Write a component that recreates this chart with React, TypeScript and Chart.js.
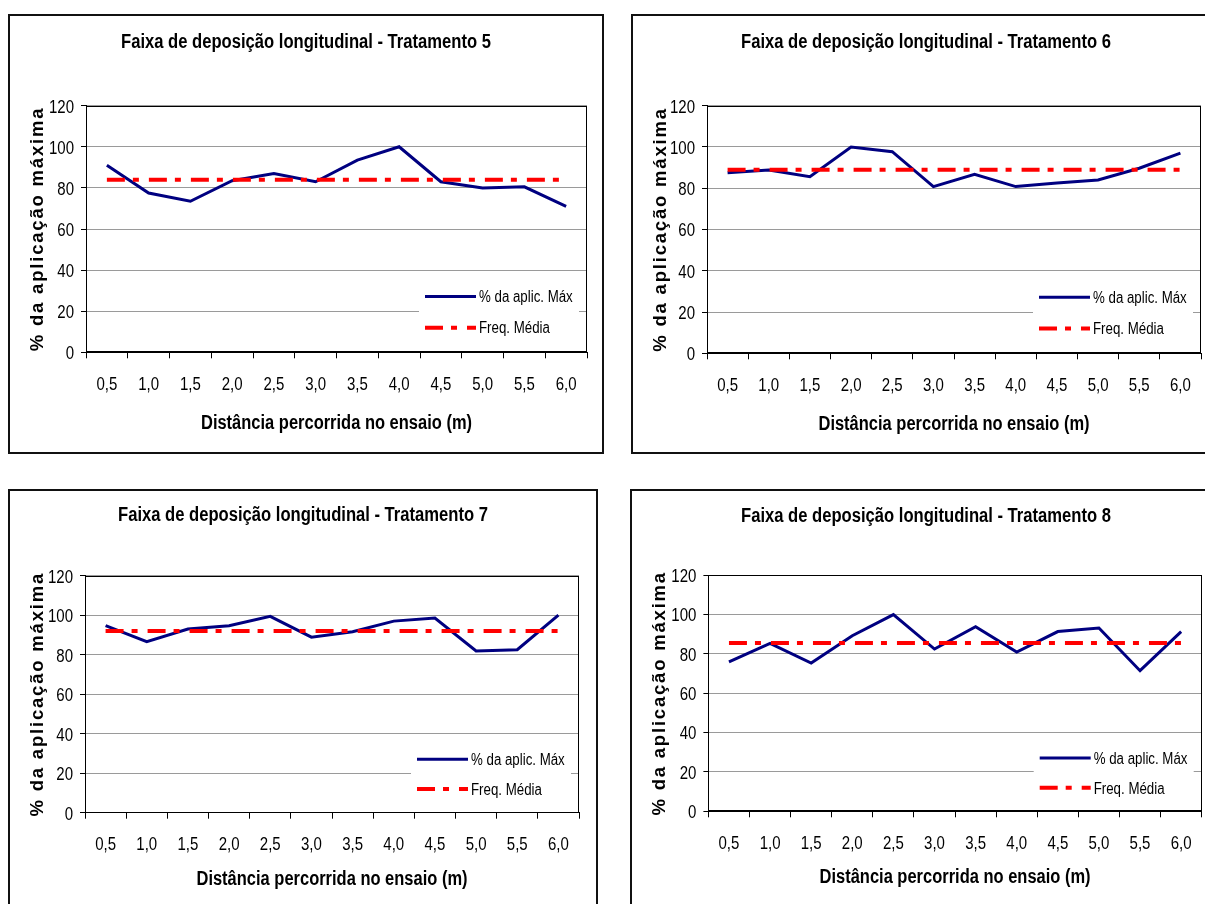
import React, { useEffect, useRef } from 'react';
import { Chart, registerables } from 'chart.js';

Chart.register(...registerables);

// Distâncias percorridas no ensaio (m)
const distancias = ['0,5', '1,0', '1,5', '2,0', '2,5', '3,0', '3,5', '4,0', '4,5', '5,0', '5,5', '6,0'];

// % da aplicação máxima por tratamento
const aplicT5 = [91, 77.5, 73.5, 83.5, 87, 83, 93.5, 100, 83, 80, 80.5, 71];
const aplicT6 = [87.5, 88.8, 85.6, 100, 97.7, 80.8, 86.8, 80.8, 82.5, 84, 89.7, 97];
const aplicT7 = [94.7, 86.6, 93, 94.7, 99.4, 88.9, 91.6, 97, 98.6, 81.9, 82.5, 100];
const aplicT8 = [76, 85.4, 75.4, 89.3, 100, 82.5, 93.9, 81, 91.4, 93.2, 71.5, 91.4];

// Frequência média de cada tratamento
const mediaT5 = 84;
const mediaT6 = 89;
const mediaT7 = 92;
const mediaT8 = 85.6;

const tratamentos = ['5', '6', '7', '8'];
const yMin = 0;
const yMax = 120;
const yPasso = 20;

const serieAplic = '% da aplic. Máx';
const serieMedia = 'Freq. Média';
const tituloX = 'Distância percorrida no ensaio (m)';
const tituloY = '% da aplicação máxima';

const FAMILIA = '"Liberation Sans", Arial, sans-serif';
const AZUL = '#000080';
const VERMELHO = '#ff0000';
const TRACO = [18, 8, 6, 10];

type Caixa = { left: number; top: number; w: number; h: number };
type Area = { l: number; r: number; t: number; b: number };

type Painel = {
  id: string;
  valores: number[];
  media: number;
  caixa: Caixa;
  area: Area;
  tituloBase: number;
  xTituloDy: number;
};

const paineis: Painel[] = [
  { id: tratamentos[0], valores: aplicT5, media: mediaT5, caixa: { left: 8, top: 14, w: 596, h: 440 }, area: { l: 78, r: 579, t: 91.7, b: 338.3 }, tituloBase: 34, xTituloDy: 77 },
  { id: tratamentos[1], valores: aplicT6, media: mediaT6, caixa: { left: 631, top: 14, w: 590, h: 440 }, area: { l: 76, r: 570, t: 91.7, b: 339.3 }, tituloBase: 34, xTituloDy: 77 },
  { id: tratamentos[2], valores: aplicT7, media: mediaT7, caixa: { left: 8, top: 489, w: 590, h: 430 }, area: { l: 77, r: 571, t: 86.7, b: 323.7 }, tituloBase: 32, xTituloDy: 72 },
  { id: tratamentos[3], valores: aplicT8, media: mediaT8, caixa: { left: 630, top: 489, w: 592, h: 430 }, area: { l: 78.4, r: 571.7, t: 86.3, b: 322.3 }, tituloBase: 32.5, xTituloDy: 72 },
];

// Texto com compressão horizontal (aspecto de fonte estreita)
function texto(
  ctx: CanvasRenderingContext2D,
  s: string,
  x: number,
  y: number,
  fonte: string,
  alinhamento: CanvasTextAlign,
  sx: number,
) {
  ctx.save();
  ctx.translate(x, y);
  ctx.scale(sx, 1);
  ctx.font = fonte;
  ctx.textAlign = alinhamento;
  ctx.textBaseline = 'alphabetic';
  ctx.fillText(s, 0, 0);
  ctx.restore();
}

// Rótulos dos eixos, título, moldura da área de plotagem e legenda interna
const decorPlugin = {
  id: 'decor',
  afterDraw(chart: any, _args: any, opts: any) {
    const ctx = chart.ctx as CanvasRenderingContext2D;
    const a = chart.chartArea;
    const L = Math.round(a.left) + 0.5;
    const R = Math.round(a.right) - 0.5;
    const T = Math.round(a.top) + 0.5;
    const B = Math.round(a.bottom) - 0.5;
    const h = a.bottom - a.top;

    ctx.save();
    // moldura
    ctx.strokeStyle = '#000';
    ctx.lineWidth = 1;
    ctx.setLineDash([]);
    ctx.strokeRect(L, T, R - L, B - T);
    ctx.fillStyle = '#000';

    // rótulos dos ticks, posicionados pelas escalas
    const fonteTick = `19px ${FAMILIA}`;
    const sy = chart.scales.y;
    sy.ticks.forEach((t: any, i: number) => {
      const py = sy.getPixelForTick(i);
      texto(ctx, String(t.label), a.left - 12, py + 6.8, fonteTick, 'right', 0.79);
    });
    const sxs = chart.scales.x;
    sxs.ticks.forEach((t: any, i: number) => {
      const px = sxs.getPixelForTick(i);
      texto(ctx, String(t.label), px, a.bottom + 37.5, fonteTick, 'center', 0.79);
    });

    // título
    texto(ctx, opts.titulo, chart.width / 2, opts.tituloBase, `bold 20px ${FAMILIA}`, 'center', 0.83);

    // título do eixo X
    texto(ctx, opts.tituloX, (a.left + a.right) / 2, a.bottom + opts.xTituloDy, `bold 19.5px ${FAMILIA}`, 'center', 0.845);

    // título do eixo Y (espaçado)
    ctx.save();
    ctx.translate(35, (a.top + a.bottom) / 2);
    ctx.rotate(-Math.PI / 2);
    ctx.font = `bold 18.5px ${FAMILIA}`;
    (ctx as any).letterSpacing = '1.8px';
    ctx.textAlign = 'center';
    ctx.textBaseline = 'alphabetic';
    ctx.fillText(opts.tituloY, 0, 0);
    ctx.restore();

    // legenda
    const y1 = a.bottom - 0.226 * h;
    const y2 = a.bottom - 0.1 * h;
    const x0 = a.right - 162;
    const x1 = a.right - 111;
    ctx.fillStyle = '#fff';
    ctx.fillRect(a.right - 168, y1 - 13, 160, y2 - y1 + 26);

    ctx.lineCap = 'butt';
    ctx.strokeStyle = AZUL;
    ctx.lineWidth = 3;
    ctx.beginPath();
    ctx.moveTo(x0, y1);
    ctx.lineTo(x1, y1);
    ctx.stroke();

    ctx.strokeStyle = VERMELHO;
    ctx.lineWidth = 4;
    ctx.setLineDash(TRACO);
    ctx.beginPath();
    ctx.moveTo(x0, y2);
    ctx.lineTo(x1, y2);
    ctx.stroke();
    ctx.setLineDash([]);

    ctx.fillStyle = '#000';
    const fonteLeg = `16px ${FAMILIA}`;
    texto(ctx, opts.legenda[0], x1 + 3, y1 + 5.8, fonteLeg, 'left', 0.83);
    texto(ctx, opts.legenda[1], x1 + 3, y2 + 5.8, fonteLeg, 'left', 0.83);
    ctx.restore();
  },
};

function Grafico({ p }: { p: Painel }) {
  const ref = useRef<HTMLCanvasElement>(null);

  useEffect(() => {
    const { caixa, area } = p;
    const chart = new Chart(ref.current as HTMLCanvasElement, {
      type: 'line',
      data: {
        labels: distancias,
        datasets: [
          {
            label: serieMedia,
            data: [
              { x: distancias[0], y: p.media },
              { x: distancias[distancias.length - 1], y: p.media },
            ] as any,
            borderColor: VERMELHO,
            borderWidth: 4,
            borderDash: TRACO,
            borderCapStyle: 'butt',
            pointRadius: 0,
            fill: false,
            order: 0,
          },
          {
            label: serieAplic,
            data: p.valores,
            borderColor: AZUL,
            borderWidth: 3,
            pointRadius: 0,
            tension: 0,
            fill: false,
            order: 1,
          },
        ],
      },
      options: {
        responsive: false,
        animation: false,
        devicePixelRatio: 1,
        events: [],
        layout: { padding: { left: 0, top: area.t, right: caixa.w - area.r, bottom: 0 } },
        plugins: {
          legend: { display: false },
          tooltip: { enabled: false },
          title: { display: false },
          decor: {
            titulo: `Faixa de deposição longitudinal - Tratamento ${p.id}`,
            tituloX,
            tituloY,
            legenda: [serieAplic, serieMedia],
            tituloBase: p.tituloBase,
            xTituloDy: p.xTituloDy,
          },
        } as any,
        scales: {
          x: {
            type: 'category',
            offset: true,
            grid: { offset: true, drawOnChartArea: false, drawTicks: true, tickLength: 6, tickColor: '#000', color: '#000' },
            border: { color: '#000', width: 1 },
            ticks: { display: false, autoSkip: false, maxRotation: 0 },
            afterFit: (s: any) => {
              s.height = caixa.h - area.b;
            },
          },
          y: {
            min: yMin,
            max: yMax,
            ticks: { display: false, stepSize: yPasso },
            grid: { color: '#9a9a9a', lineWidth: 1, tickColor: '#000', tickLength: 5 },
            border: { color: '#000', width: 1 },
            afterFit: (s: any) => {
              s.width = area.l;
            },
          },
        },
      },
      plugins: [decorPlugin],
    } as any);
    return () => chart.destroy();
  }, [p]);

  const { caixa } = p;
  return (
    <div style={{ position: 'absolute', left: caixa.left, top: caixa.top, width: caixa.w, height: caixa.h }}>
      <canvas ref={ref} width={caixa.w} height={caixa.h} style={{ display: 'block', width: caixa.w, height: caixa.h }} />
      <div
        style={{
          position: 'absolute',
          left: 0,
          top: 0,
          width: caixa.w,
          height: caixa.h,
          boxSizing: 'border-box',
          border: '2px solid #111',
          pointerEvents: 'none',
        }}
      />
    </div>
  );
}

export default function App() {
  return (
    <div style={{ position: 'fixed', left: 0, top: 0, width: 1205, height: 904, overflow: 'hidden', background: '#fff' }}>
      {paineis.map((p) => (
        <Grafico key={p.id} p={p} />
      ))}
    </div>
  );
}
